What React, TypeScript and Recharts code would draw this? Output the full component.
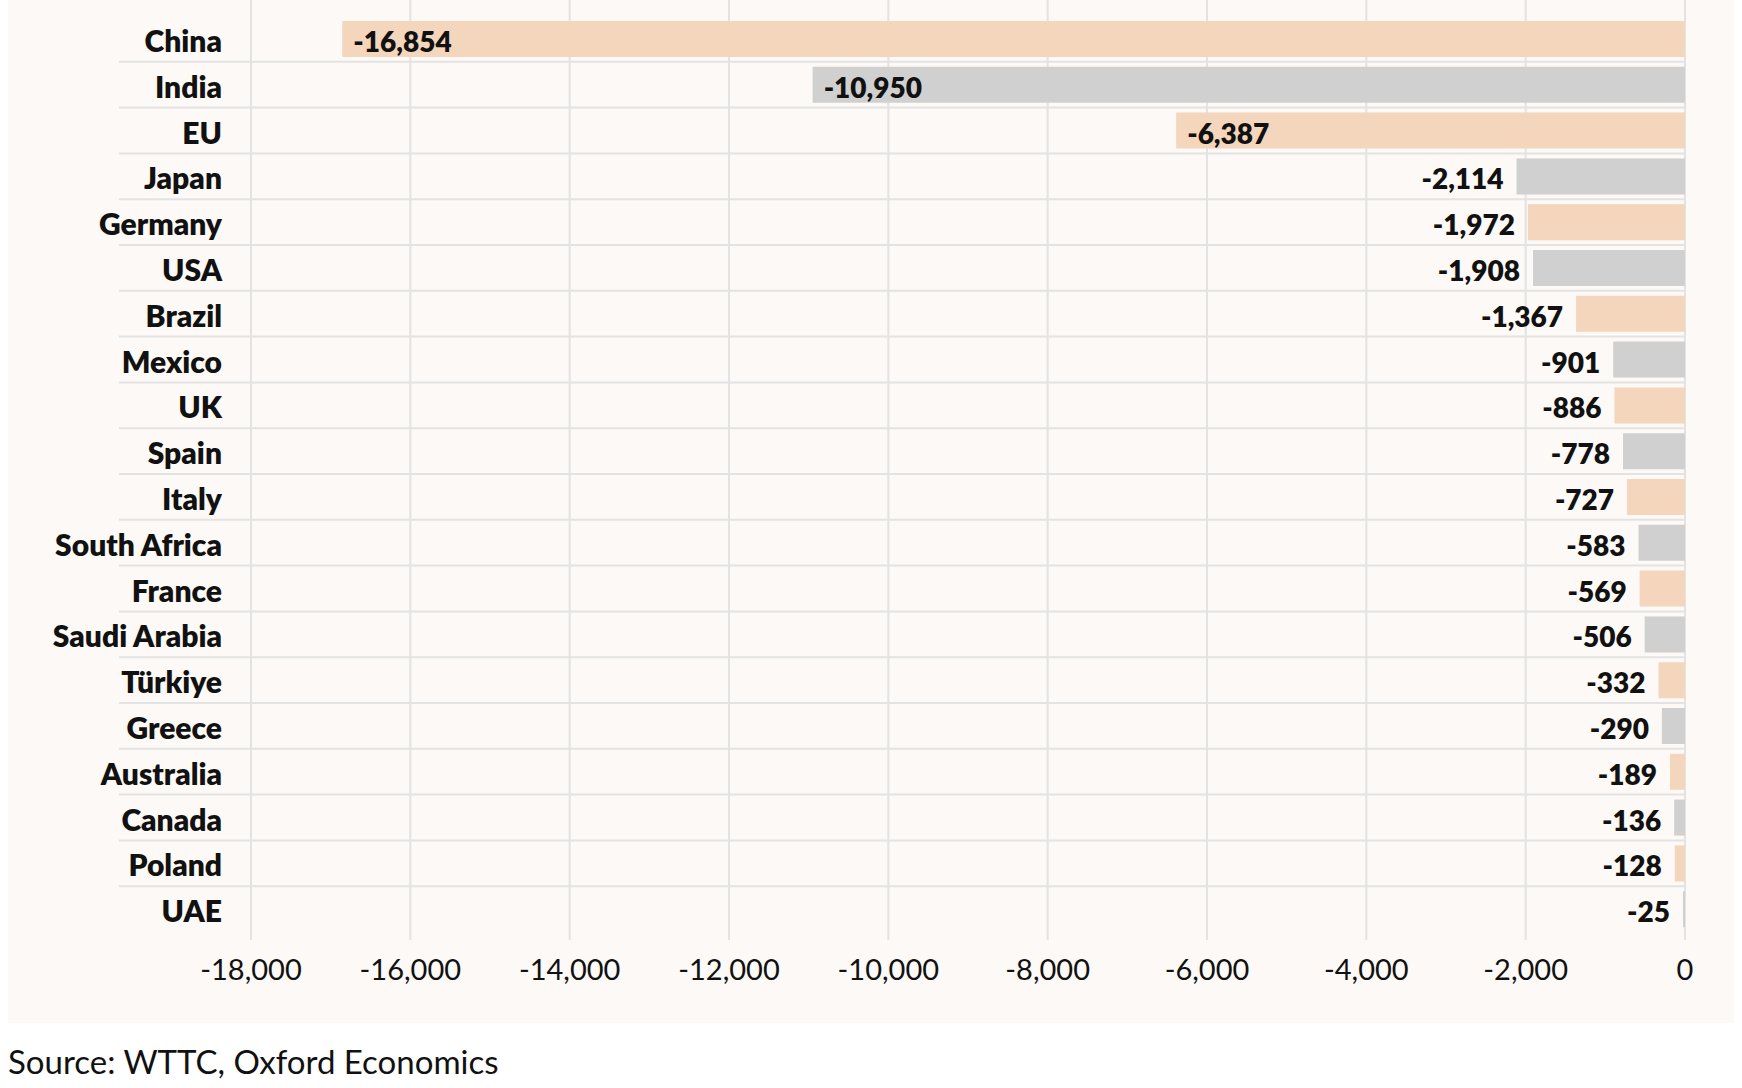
import React from "react";
import { BarChart, Bar, XAxis, YAxis, CartesianGrid, Cell, LabelList } from "recharts";

const countries = [
  "China", "India", "EU", "Japan", "Germany", "USA", "Brazil", "Mexico", "UK", "Spain",
  "Italy", "South Africa", "France", "Saudi Arabia", "Türkiye", "Greece", "Australia",
  "Canada", "Poland", "UAE",
];
const values = [
  -16854, -10950, -6387, -2114, -1972, -1908, -1367, -901, -886, -778,
  -727, -583, -569, -506, -332, -290, -189, -136, -128, -25,
];
const xTicks = [-18000, -16000, -14000, -12000, -10000, -8000, -6000, -4000, -2000, 0];
const barColors = ["#f3d6bc", "#d0d0d0"];

const data = countries.map((name, i) => ({ name, value: values[i] }));

const W = 1726;
const H = 1023;
const AXIS_W = 243;
const RIGHT = 49;
const PLOT_H = 940;
const PAD_TOP = 16;
const PAD_BOTTOM = 8;
const BAND = (PLOT_H - PAD_TOP - PAD_BOTTOM) / countries.length;
const FONT = "Lato, 'Noto Sans', sans-serif";
const fmt = (v: number) => v.toLocaleString("en-US");

function CountryTick(props: any) {
  const { x, y, payload, index } = props;
  return (
    <g>
      {index < countries.length - 1 && (
        <line x1={111} x2={W - RIGHT} y1={y + BAND / 2} y2={y + BAND / 2} stroke="#e3e3e3" strokeWidth={2} />
      )}
      <text x={x - 29} y={y} dy={13} textAnchor="end" fontFamily={FONT} fontWeight={800} fontSize={30} fill="#111">
        {payload.value}
      </text>
    </g>
  );
}

function ValueTick(props: any) {
  const { x, y, payload } = props;
  return (
    <text x={x} y={y + 40} textAnchor="middle" fontFamily={FONT} fontSize={29} fill="#111">
      {fmt(payload.value)}
    </text>
  );
}

function ValueLabel(props: any) {
  const { x, y, width, height, value } = props;
  const left = Math.min(x, x + width);
  const len = Math.abs(width);
  const inside = len > 300;
  return (
    <text
      x={inside ? left + 11 : left - 13}
      y={y + height / 2}
      dy={13}
      textAnchor={inside ? "start" : "end"}
      fontFamily={FONT}
      fontWeight={800}
      fontSize={28}
      fill="#111"
    >
      {fmt(value)}
    </text>
  );
}

export default function App() {
  return (
    <div style={{ position: "absolute", left: 8, top: 0, width: W }}>
      <div style={{ background: "#fcf9f6", width: W, height: H }}>
        <BarChart width={W} height={H} layout="vertical" data={data} margin={{ top: 0, right: RIGHT, left: 0, bottom: 0 }}>
          <CartesianGrid horizontal={false} stroke="#e3e3e3" strokeWidth={2} />
          <XAxis
            type="number"
            domain={[-18000, 0]}
            ticks={xTicks}
            height={H - PLOT_H}
            axisLine={false}
            tickLine={false}
            tickSize={0}
            tickMargin={0}
            tick={<ValueTick />}
            interval={0}
          />
          <YAxis
            type="category"
            dataKey="name"
            width={AXIS_W}
            axisLine={false}
            tickLine={false}
            tickSize={0}
            tickMargin={0}
            padding={{ top: PAD_TOP, bottom: PAD_BOTTOM }}
            tick={<CountryTick />}
            interval={0}
          />
          <Bar dataKey="value" barSize={36} isAnimationActive={false}>
            {data.map((d, i) => (
              <Cell key={d.name} fill={barColors[i % 2]} />
            ))}
            <LabelList dataKey="value" content={<ValueLabel />} />
          </Bar>
        </BarChart>
      </div>
      <div style={{ fontFamily: FONT, fontSize: 33, lineHeight: "33px", marginTop: 22, color: "#111" }}>
        Source: WTTC, Oxford Economics
      </div>
    </div>
  );
}
